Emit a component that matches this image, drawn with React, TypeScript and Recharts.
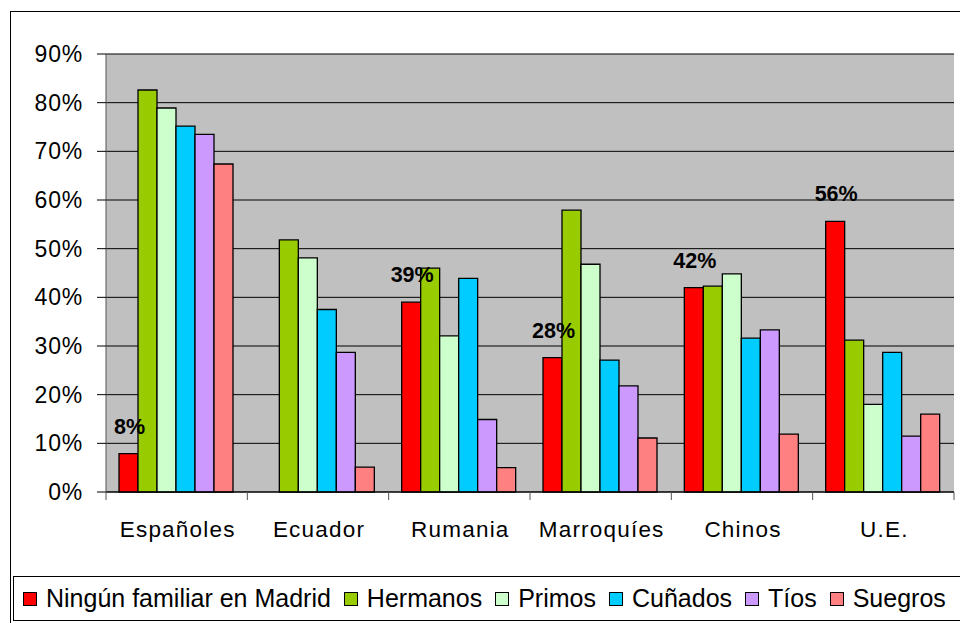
import { BarChart, Bar, XAxis, YAxis, CartesianGrid, LabelList } from "recharts";

const categories = ["Españoles", "Ecuador", "Rumania", "Marroquíes", "Chinos", "U.E."];

const ningun = [7.9, 0, 39.0, 27.6, 42.0, 55.6];
const hermanos = [82.6, 51.8, 46.0, 57.9, 42.3, 31.2];
const primos = [78.9, 48.1, 32.1, 46.8, 44.8, 18.0];
const cunados = [75.2, 37.5, 43.9, 27.1, 31.6, 28.7];
const tios = [73.5, 28.7, 14.9, 21.8, 33.3, 11.5];
const suegros = [67.4, 5.1, 5.0, 11.1, 11.9, 16.0];

const yTicks = [0, 10, 20, 30, 40, 50, 60, 70, 80, 90];

const series = [
  { key: "ningun", name: "Ningún familiar en Madrid", values: ningun, color: "#FF0000" },
  { key: "hermanos", name: "Hermanos", values: hermanos, color: "#99CC00" },
  { key: "primos", name: "Primos", values: primos, color: "#CCFFCC" },
  { key: "cunados", name: "Cuñados", values: cunados, color: "#00CCFF" },
  { key: "tios", name: "Tíos", values: tios, color: "#CC99FF" },
  { key: "suegros", name: "Suegros", values: suegros, color: "#FF8080" },
];

const data = categories.map((cat, i) => {
  const row: Record<string, string | number> = { cat };
  series.forEach((s) => {
    row[s.key] = s.values[i];
  });
  return row;
});

const FONT = '"Liberation Sans", Arial, sans-serif';

function CatTick(props: any) {
  const { x, y, payload, index, visibleTicksCount } = props;
  const half = payload?.offset ?? 848 / categories.length / 2;
  return (
    <g>
      <line x1={x - half} x2={x - half} y1={y} y2={y + 8} stroke="#555" strokeWidth={1} />
      {index === visibleTicksCount - 1 && (
        <line x1={x + half} x2={x + half} y1={y} y2={y + 8} stroke="#555" strokeWidth={1} />
      )}
      <text
        x={x + 1}
        y={y + 45}
        textAnchor="middle"
        fontFamily={FONT}
        fontSize={22.5}
        letterSpacing={1.2}
        fill="#000"
      >
        {payload.value}
      </text>
    </g>
  );
}

function PctLabel(props: any) {
  const { x, y, width, value } = props;
  if (!value) return null;
  return (
    <text
      x={x + width / 2 + 1}
      y={y - 27}
      textAnchor="middle"
      dominantBaseline="central"
      fontFamily={FONT}
      fontWeight="bold"
      fontSize={21.5}
      fill="#000"
    >
      {Math.round(value)}%
    </text>
  );
}

export default function App() {
  return (
    <div
      style={{
        position: "relative",
        width: 960,
        height: 623,
        overflow: "hidden",
        background: "#fff",
        fontFamily: FONT,
      }}
    >
      <style>{`body{margin:0;overflow:hidden}`}</style>
      <div
        style={{
          position: "absolute",
          left: 10,
          top: 11,
          width: 1000,
          height: 700,
          border: "1px solid #000",
        }}
      />
      <div style={{ position: "absolute", left: 0, top: 0 }}>
        <BarChart
          width={960}
          height={623}
          data={data}
          margin={{ top: 54, right: 6, left: 10, bottom: 71 }}
          barCategoryGap={13}
          barGap={0}
        >
          <CartesianGrid vertical={false} stroke="#000" fill="#C0C0C0" fillOpacity={1} />
          <XAxis
            dataKey="cat"
            height={60}
            tickLine={false}
            tickSize={0}
            tickMargin={0}
            axisLine={{ stroke: "#000" }}
            interval={0}
            tick={(p: any) => <CatTick {...p} />}
          />
          <YAxis
            width={96}
            domain={[0, 90]}
            ticks={yTicks}
            interval={0}
            tickFormatter={(v: number) => `${v}%`}
            tickSize={9}
            tickMargin={14}
            tickLine={{ stroke: "#000" }}
            axisLine={{ stroke: "#555" }}
            tick={{ fill: "#000", fontSize: 23, fontFamily: FONT, letterSpacing: 0.8 }}
          />
          <YAxis
            yAxisId="right"
            orientation="right"
            width={0}
            domain={[0, 90]}
            tick={false}
            tickLine={false}
            axisLine={{ stroke: "#808080", strokeWidth: 2 }}
          />
          {series.map((s) => (
            <Bar
              key={s.key}
              dataKey={s.key}
              name={s.name}
              fill={s.color}
              stroke="#000"
              strokeWidth={1.3}
              isAnimationActive={false}
            >
              {s.key === "ningun" && <LabelList dataKey={s.key} content={(p: any) => <PctLabel {...p} />} />}
            </Bar>
          ))}
        </BarChart>
      </div>
      <div
        style={{
          position: "absolute",
          left: 13,
          top: 576,
          width: 1000,
          height: 45,
          border: "1px solid #000",
          boxSizing: "border-box",
          display: "flex",
          alignItems: "center",
          paddingLeft: 9,
          fontSize: 25,
          color: "#000",
          whiteSpace: "nowrap",
        }}
      >
        {series.map((s) => (
          <div key={s.key} style={{ display: "flex", alignItems: "center", marginRight: 13 }}>
            <span
              style={{
                display: "inline-block",
                width: 12,
                height: 12,
                background: s.color,
                border: "1.5px solid #000",
                marginRight: 9,
              }}
            />
            <span>{s.name}</span>
          </div>
        ))}
      </div>
    </div>
  );
}
